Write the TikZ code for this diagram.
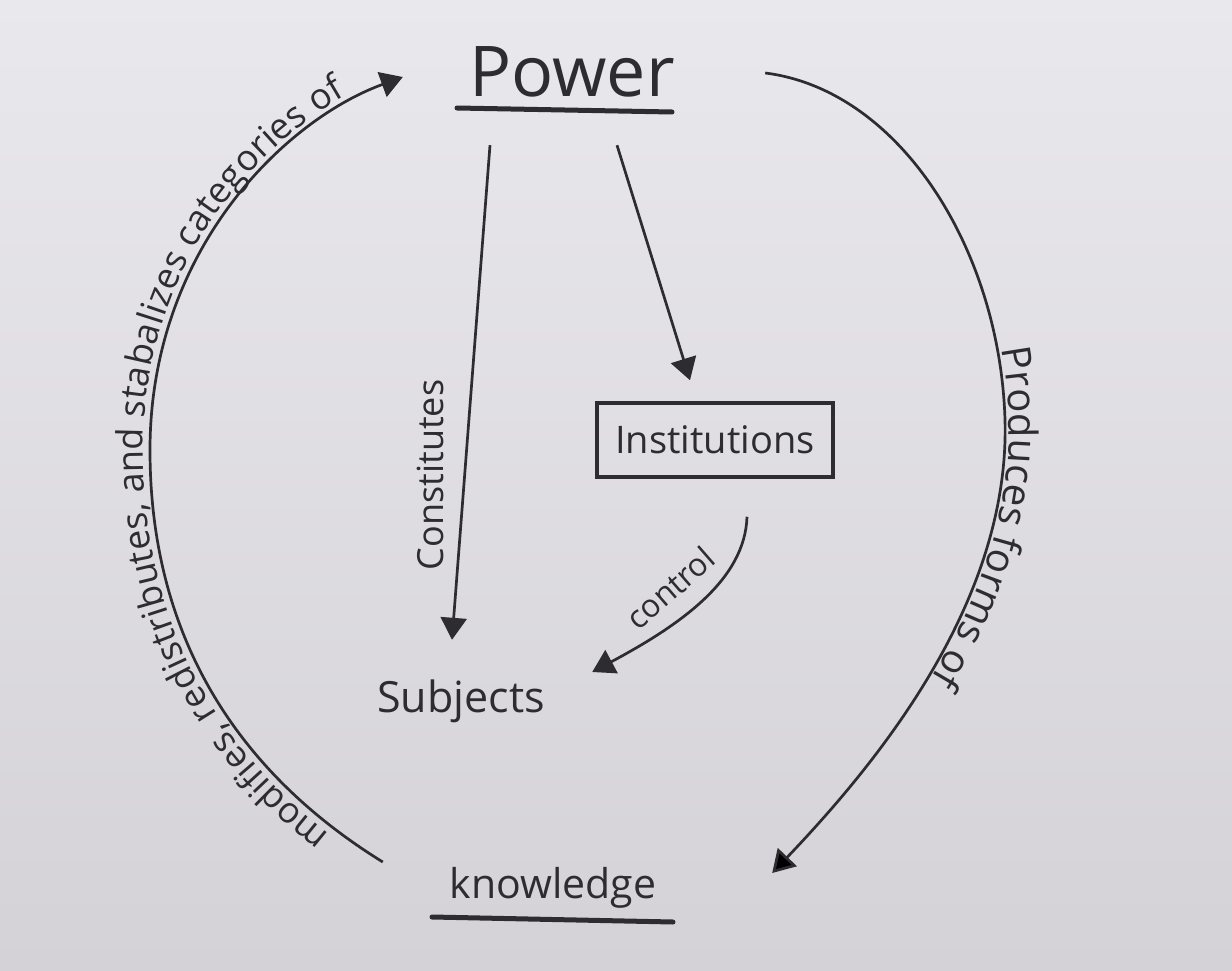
\documentclass[tikz,border=0pt]{standalone}
\usepackage{fontspec}
\setmainfont{Open Sans}
\usetikzlibrary{arrows.meta,decorations.text}
\newcommand\myfs[1]{\fontsize{#1}{#1}\selectfont}
\definecolor{paperA}{RGB}{233,232,237}
\definecolor{paperB}{RGB}{212,210,215}
\definecolor{ink}{RGB}{45,44,48}
\begin{document}
\begin{tikzpicture}[x=1pt,y=-1pt,
  lbl/.style={text=ink, inner sep=0pt},
  conn/.style={draw=ink, line width=2.7pt, -{Triangle[length=22pt,width=26pt]}},
  uline/.style={draw=ink, line width=5pt, line cap=round}]
\useasboundingbox (0,0) rectangle (1232,971);
\shade[top color=paperA, bottom color=paperB] (0,0) rectangle (1232,971);
% nodes
\node[lbl, minimum width=300pt, minimum height=130pt, font=\myfs{70}] (pw) at (572,72) {Power};
\node[lbl, draw=ink, line width=3.5pt, minimum width=236pt, minimum height=74pt, font=\myfs{38}] (inst) at (715,440) {Institutions};
\node[lbl, minimum width=200pt, minimum height=110pt, font=\myfs{43}] (sub) at (461,701) {Subjects};
\node[lbl, minimum width=340pt, minimum height=60pt, font=\myfs{41}] (kn) at (553,888) {knowledge};
% underlines
\draw[uline] ([shift={(-115pt,-36pt)}]pw.center) -- ([shift={(100pt,-40pt)}]pw.center);
\draw[uline] ([shift={(-121pt,-29pt)}]kn.center) -- ([shift={(120pt,-34pt)}]kn.center);
% straight connectors
\draw[conn] ([shift={(-82pt,-8pt)}]pw.south) -- ([shift={(-9pt,6pt)}]sub.north);
\draw[conn] ([shift={(45pt,-8pt)}]pw.south) -- ([shift={(-25pt,21pt)}]inst.north);
\draw[conn] ([shift={(32pt,-38pt)}]inst.south) .. controls (745,580) and (680,625) .. ([shift={(31pt,29pt)}]sub.east);
\node[lbl, rotate=90, font=\myfs{36}] (lconst) at (430,475) {Constitutes};
\node[lbl, rotate=41, font=\myfs{32}] (lctrl) at (670,588) {control};
% left curve
\draw[conn] ([shift={(0pt,26pt)}]kn.west) .. controls (250,780) and (150,650) .. (150,450) .. controls (150,250) and (285,120) .. ([shift={(-19pt,-5pt)}]pw.west);
\path[decorate, decoration={text along path, text color=ink,
   text={|\myfs{36}|modifies, redistributes, and stabalizes categories of},
   text align=center, raise=7pt}]
  ([shift={(0pt,26pt)}]kn.west) .. controls (250,780) and (150,650) .. (150,450) .. controls (150,250) and (285,120) .. ([shift={(-19pt,-5pt)}]pw.west);
% right curve
\draw[conn] ([shift={(43pt,-1pt)}]pw.east) .. controls (900,90) and (1000,250) .. (1005,420) .. controls (1010,600) and (880,760) .. ([shift={(49pt,15pt)}]kn.east);
\path[decorate, decoration={text along path, text color=ink,
   text={|\myfs{40}|Produces forms of},
   text align={left indent=385pt}, raise=4pt}]
  ([shift={(43pt,-1pt)}]pw.east) .. controls (900,90) and (1000,250) .. (1005,420) .. controls (1010,600) and (880,760) .. ([shift={(49pt,15pt)}]kn.east);
\end{tikzpicture}
\end{document}
